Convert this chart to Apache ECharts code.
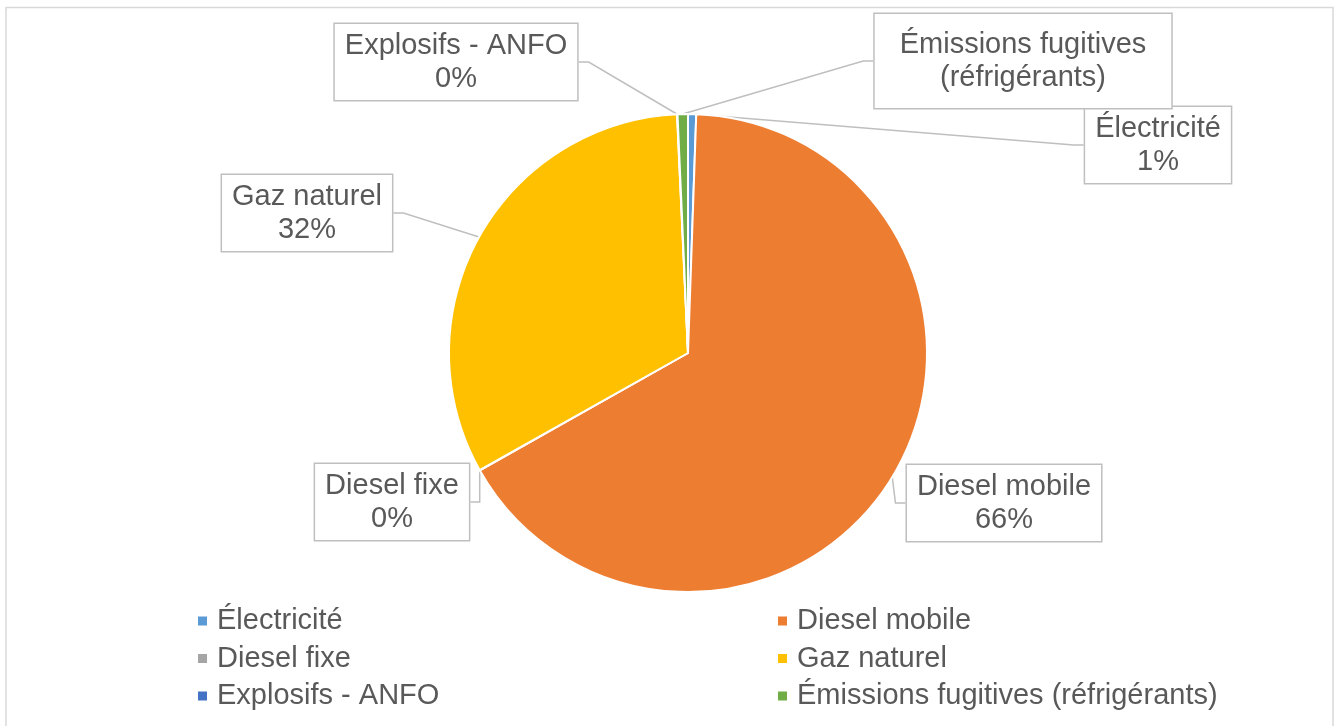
<!DOCTYPE html>
<html>
<head>
<meta charset="utf-8">
<script src="https://cdn.jsdelivr.net/npm/echarts@6/dist/echarts.min.js"></script>
<style>
  html, body { margin: 0; padding: 0; background: #fff; }
  #chart { width: 1334px; height: 726px; }
</style>
</head>
<body>
<div id="chart"></div>
<script>
// sources d'émission (ordre du graphique, sens horaire depuis midi)
var categories = ['Électricité', 'Diesel mobile', 'Diesel fixe', 'Gaz naturel', 'Explosifs - ANFO', 'Émissions fugitives (réfrigérants)'];
var values = [0.55, 66.25, 0.03, 32.4, 0.03, 0.7];
var colors = ['#5B9BD5', '#ED7D31', '#A5A5A5', '#FFC000', '#4472C4', '#70AD47'];
var showPercent = [true, true, true, true, true, false];

// position des étiquettes (centre de la boîte)
var labelPos = [
  [1158, 145], [1004, 503], [392, 502], [307, 213], [456, 62], [1023, 61]
];

var myChart = echarts.init(document.getElementById('chart'));

var pieData = [];
for (var i = 0; i < categories.length; i++) {
  var item = { name: categories[i], value: values[i], itemStyle: { color: colors[i] } };
  if (i == 5) {
    item.label = { padding: [14, 25] };
  }
  pieData.push(item);
}

var legendText = { fontFamily: 'Liberation Sans', fontSize: 29, color: '#595959', lineHeight: 30, padding: [0, 0, 0, 4] };

var option = {
  animation: false,
  graphic: [{
    type: 'rect',
    shape: { x: 6, y: 7.5, width: 1327, height: 740 },
    style: { fill: 'none', stroke: '#d9d9d9', lineWidth: 1.5 },
    silent: true
  }],
  legend: [
    {
      orient: 'vertical',
      left: 191,
      top: 601,
      icon: 'rect',
      itemWidth: 11,
      itemHeight: 11,
      itemGap: 7.5,
      selectedMode: false,
      data: [categories[0], categories[2], categories[4]],
      textStyle: legendText
    },
    {
      orient: 'vertical',
      left: 771,
      top: 601,
      icon: 'rect',
      itemWidth: 11,
      itemHeight: 11,
      itemGap: 7.5,
      selectedMode: false,
      data: [categories[1], categories[3], categories[5]],
      textStyle: legendText
    }
  ],
  series: [
    {
      type: 'pie',
      center: [688, 353],
      radius: 239,
      startAngle: 90,
      clockwise: true,
      avoidLabelOverlap: false,
      minShowLabelAngle: 0,
      itemStyle: { borderColor: '#fff', borderWidth: 2 },
      emphasis: { disabled: true },
      label: {
        show: true,
        position: 'outside',
        fontFamily: 'Liberation Sans',
        fontSize: 29,
        lineHeight: 33,
        color: '#595959',
        align: 'center',
        backgroundColor: '#fff',
        borderColor: '#bfbfbf',
        borderWidth: 1.5,
        padding: [5, 10],
        formatter: function (params) {
          var i = params.dataIndex;
          if (!showPercent[i]) {
            return 'Émissions fugitives\n(réfrigérants)';
          }
          return params.name + '\n' + Math.round(params.percent) + '%';
        }
      },
      labelLine: {
        show: true,
        length: 10,
        length2: 10,
        lineStyle: { color: '#bfbfbf', width: 1.5 }
      },
      labelLayout: function (params) {
        var p = labelPos[params.dataIndex];
        return {
          x: p[0],
          y: p[1],
          align: 'center',
          verticalAlign: 'middle'
        };
      },
      data: pieData
    }
  ]
};

myChart.setOption(option);
</script>
</body>
</html>
